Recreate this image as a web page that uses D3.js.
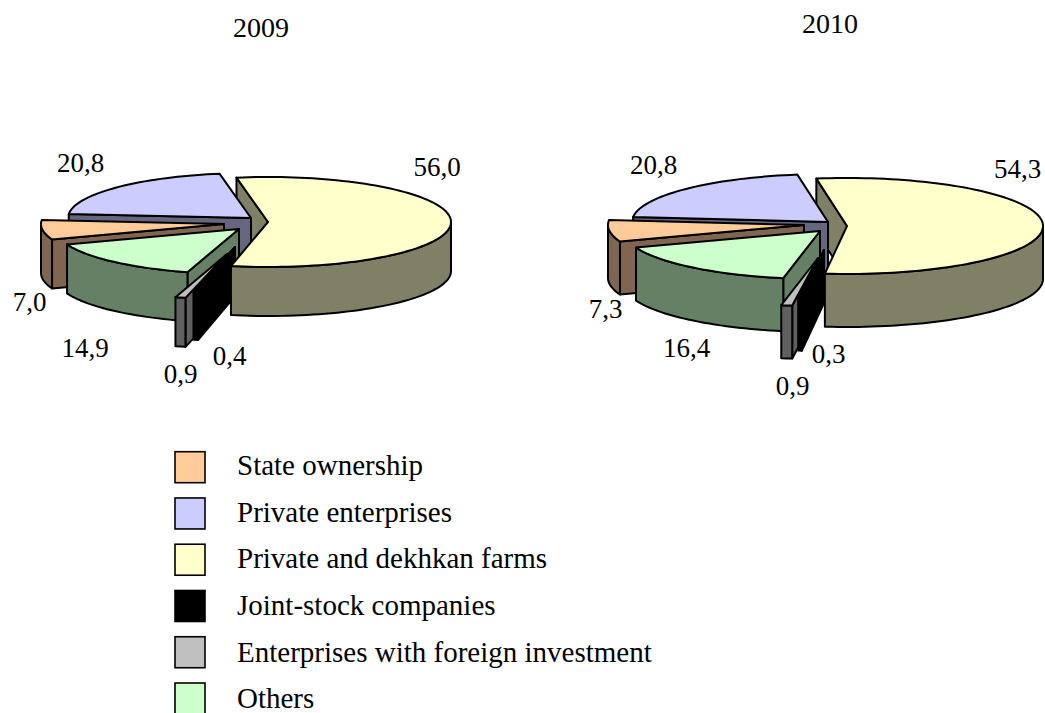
<!DOCTYPE html>
<html><head><meta charset="utf-8">
<style>html,body{margin:0;padding:0;background:#fff;overflow:hidden}svg{display:block}text{font-family:"Liberation Serif",serif;fill:#000}</style>
<script src="https://cdn.jsdelivr.net/npm/d3@7"></script></head>
<body><svg id="c" width="1045" height="713"></svg>
<script>
// ---- data ----
const categories = ["State ownership","Private enterprises","Private and dekhkan farms","Joint-stock companies","Enterprises with foreign investment","Others"];
const years = ["2009","2010"];
const values2009 = [7.0,20.8,56.0,0.4,0.9,14.9];
const values2010 = [7.3,20.8,54.3,0.3,0.9,16.4];
// ---- styles ----
const topColors = ["#FFCC99","#CCCCFF","#FFFFCC","#000000","#C0C0C0","#CCFFCC"];
const wallColors = ["#806650","#666680","#808066","#000000","#606060","#668066"];
// ---- layout ----
const layouts = [
 {values:values2009,year:years[0],title:[261,37],cx:255,cy:221,rx:183,ry:45,depth:49,first:-110,
  offsets:[[-31,3],[-4,-3],[13,1],[-20,26],[-28,33],[-16,8]],
  labels:[[29.5,311],[80.5,172],[437,176],[229.5,365],[180.5,383],[85,357]]},
 {values:values2010,year:years[1],title:[830,33],cx:835,cy:224,rx:196,ry:48,depth:53,first:-110.16,
  offsets:[[-31,1],[-7,-2],[12,2],[-11,26],[-17,34],[-15,7]],
  labels:[[605.5,318],[653.5,174],[1017.5,178],[828.5,363],[792.5,395],[686.5,357]]}
];
const labelSize = 27, titleSize = 28, legendSize = 29;
const svg = d3.select("#c");
const rad = d => d*Math.PI/180, deg = r => r*180/Math.PI;
const line = d3.line();

function chart(L){
  const g = svg.append("g");
  const pie = d3.pie().sort(null).startAngle(rad(L.first)).endAngle(rad(L.first+360));
  const arcs = pie(L.values);
  const geom = arcs.map((a,i)=>{
    const c=[L.cx+L.offsets[i][0],L.cy+L.offsets[i][1]];
    const pt=(t,dz=0)=>[c[0]+L.rx*Math.sin(t),c[1]-L.ry*Math.cos(t)+dz];
    return {i,c,pt,t0:a.startAngle,t1:a.endAngle};
  });
  const rim=(t0,t1,dz=0,pt)=>{const n=Math.max(2,Math.ceil(deg(t1-t0)/2)+1);
    return d3.range(n).map(k=>pt(t0+(t1-t0)*k/(n-1),dz));};
  const shape=(pts,fill)=>g.append("path").attr("d",line(pts)+"Z").attr("fill",fill)
    .attr("stroke","#000").attr("stroke-width",2).attr("stroke-linejoin","round");
  const sideWall=(s,t)=>{const o=s.pt(t);shape([s.c,o,[o[0],o[1]+L.depth],[s.c[0],s.c[1]+L.depth]],wallColors[s.i]);};
  const startWall=s=>{if(Math.sin(s.t0)<0)sideWall(s,s.t0);};
  const rest=s=>{
    if(Math.sin(s.t1)>0)sideWall(s,s.t1);
    if(Math.sin(s.t0)>=0)sideWall(s,s.t0);
    [0,2*Math.PI].forEach(k=>{
      const a=Math.max(s.t0+k,Math.PI/2),b=Math.min(s.t1+k,3*Math.PI/2);
      if(b>a)shape(rim(a,b,0,s.pt).concat(rim(a,b,L.depth,s.pt).reverse()),wallColors[s.i]);
    });
    shape([s.c].concat(rim(s.t0,s.t1,0,s.pt)),topColors[s.i]);
  };
  // painter's order: farms' cut face, then the others, then the farms slice on top
  startWall(geom[2]);
  [1,0,5,4,3].forEach(i=>{startWall(geom[i]);rest(geom[i]);});
  rest(geom[2]);
  L.values.forEach((v,i)=>{
    svg.append("text").attr("x",L.labels[i][0]).attr("y",L.labels[i][1]).attr("text-anchor","middle")
      .attr("font-size",labelSize).text(d3.format(".1f")(v).replace(".",","));
  });
  svg.append("text").attr("x",L.title[0]).attr("y",L.title[1]).attr("text-anchor","middle")
    .attr("font-size",titleSize).text(L.year);
}
layouts.forEach(chart);

// legend
const legendY = d3.scaleLinear().domain([0,5]).range([451.7,683]);
const legendTextY = d3.scaleLinear().domain([0,5]).range([475,708.3]);
const lg = svg.append("g").selectAll("g").data(categories).join("g");
lg.append("rect").attr("x",175).attr("y",(d,i)=>legendY(i)).attr("width",30).attr("height",31)
  .attr("fill",(d,i)=>topColors[i]).attr("stroke","#000").attr("stroke-width",1.6);
lg.append("text").attr("x",237).attr("y",(d,i)=>legendTextY(i)).attr("font-size",legendSize).text(d=>d);
</script></body></html>
